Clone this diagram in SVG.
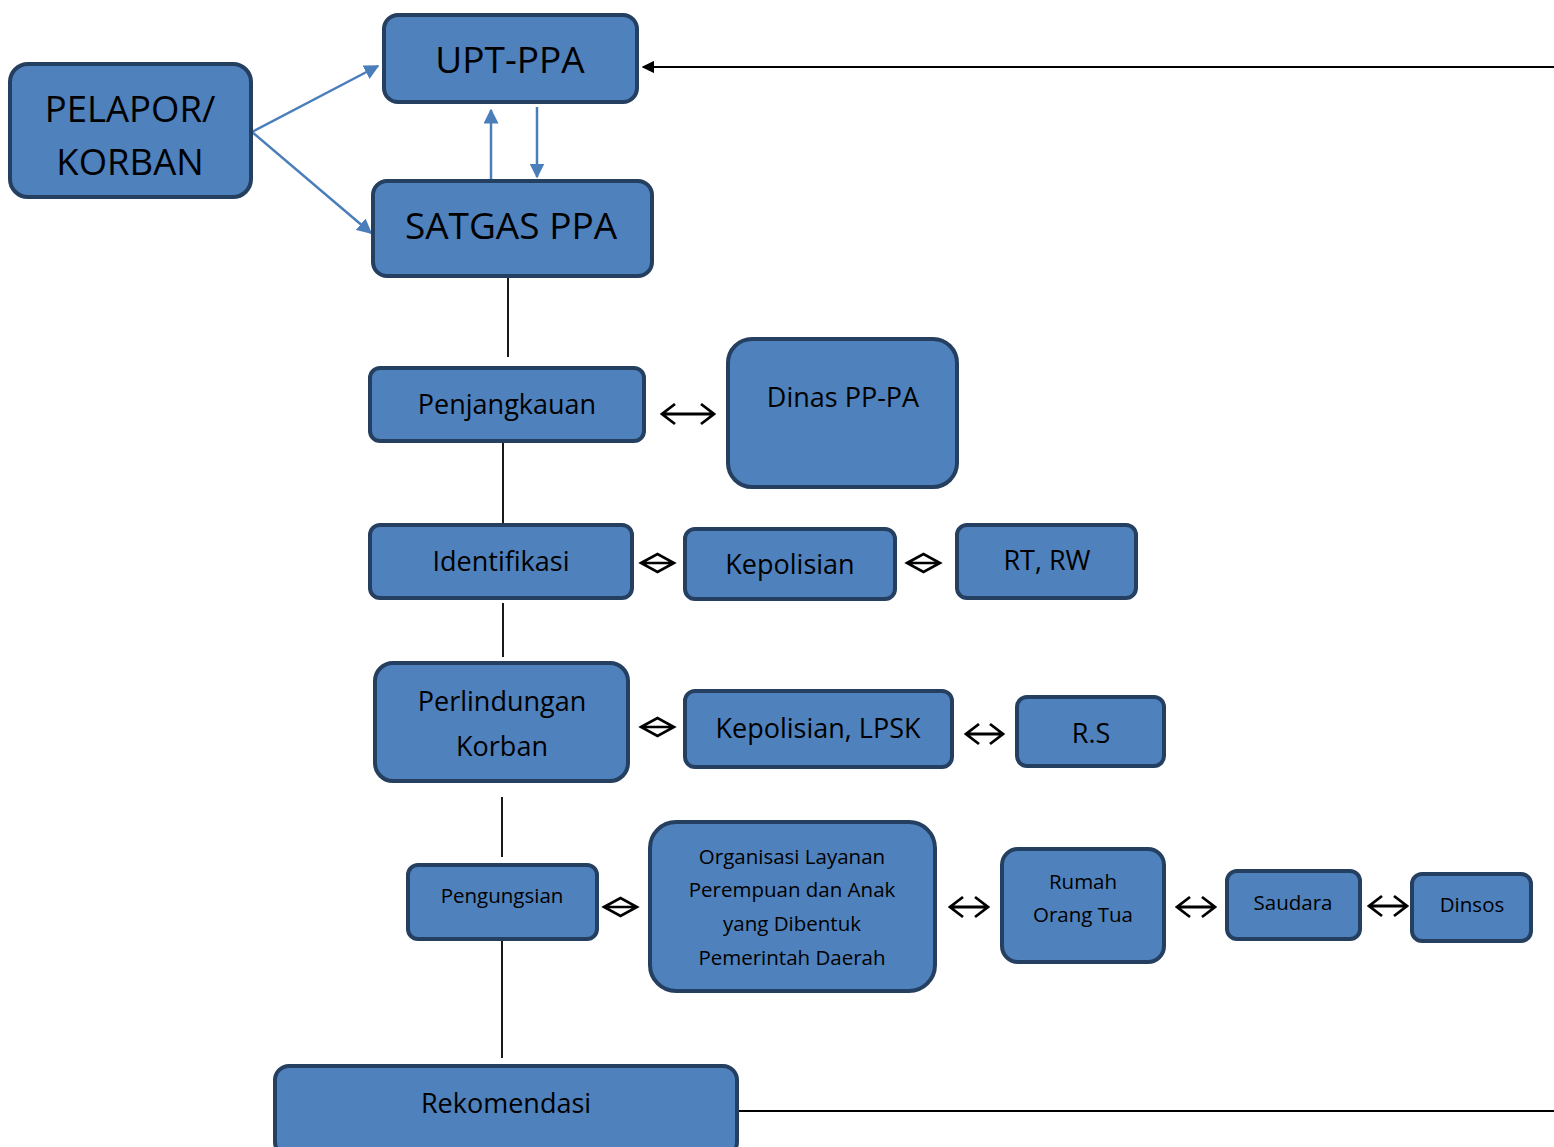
<svg xmlns="http://www.w3.org/2000/svg" width="1554" height="1147" viewBox="0 0 1554 1147">
<style>
.box{fill:#4F81BD;stroke:#243F60;stroke-width:4}
.t{font-family:"Open Sans","Liberation Sans",sans-serif;fill:#000;text-anchor:middle}
.blue{stroke:#4A7EBB;stroke-width:2.5;fill:none}
.ln{stroke:#000;stroke-width:1.8;fill:none}
.dbl{stroke:#000;stroke-width:2.8;fill:none;stroke-linejoin:miter}
.dia{stroke:#000;stroke-width:2.6;fill:#fff}
</style>
<defs>
<marker id="ab" viewBox="0 0 10 10" refX="9" refY="5" markerWidth="6" markerHeight="6" orient="auto" markerUnits="strokeWidth"><path d="M0,0 L10,5 L0,10 Z" fill="#4A7EBB"/></marker>
<marker id="ak" viewBox="0 0 10 10" refX="9" refY="5" markerWidth="7" markerHeight="7" orient="auto" markerUnits="strokeWidth"><path d="M0,0 L10,5 L0,10 Z" fill="#000"/></marker>
</defs>
<rect width="1554" height="1147" fill="#fff"/>
<g id="connectors">
<line class="blue" x1="252" y1="132" x2="378" y2="66" marker-end="url(#ab)"/>
<line class="blue" x1="252" y1="132" x2="371" y2="233" marker-end="url(#ab)"/>
<line class="blue" x1="491" y1="181" x2="491" y2="110" marker-end="url(#ab)"/>
<line class="blue" x1="537" y1="107" x2="537" y2="177" marker-end="url(#ab)"/>
<line class="ln" x1="1554" y1="67" x2="643" y2="67" marker-end="url(#ak)"/>
<line class="ln" x1="508" y1="276" x2="508" y2="357"/>
<line class="ln" x1="503" y1="441" x2="503" y2="523"/>
<line class="ln" x1="503" y1="603" x2="503" y2="657"/>
<line class="ln" x1="502" y1="797" x2="502" y2="857"/>
<line class="ln" x1="502" y1="940" x2="502" y2="1058"/>
<line class="ln" x1="737" y1="1111" x2="1554" y2="1111"/>
<path class="dbl" d="M662,414 H714 M675,404 L662,414 L675,424 M701,404 L714,414 L701,424"/>
<path class="dia" d="M641,563 L657.5,554 L674,563 L657.5,572 Z M641,563 H674"/>
<path class="dia" d="M907,563 L923.5,554 L940,563 L923.5,572 Z M907,563 H940"/>
<path class="dia" d="M641,727 L657.5,718 L674,727 L657.5,736 Z M641,727 H674"/>
<path class="dbl" d="M966,734 H1003 M979,724 L966,734 L979,744 M990,724 L1003,734 L990,744"/>
<path class="dia" d="M604,907 L620.5,898 L637,907 L620.5,916 Z M604,907 H637"/>
<path class="dbl" d="M950,907 H988 M963,897 L950,907 L963,917 M975,897 L988,907 L975,917"/>
<path class="dbl" d="M1177,907 H1215 M1190,897 L1177,907 L1190,917 M1202,897 L1215,907 L1202,917"/>
<path class="dbl" d="M1369,906 H1407 M1382,896 L1369,906 L1382,916 M1394,896 L1407,906 L1394,916"/>
</g>
<g id="pelapor"><rect class="box" x="10" y="64" width="241" height="133" rx="18"/><text class="t" x="130" y="122" font-size="36.5">PELAPOR/</text><text class="t" x="130" y="175" font-size="36.5">KORBAN</text></g>
<g id="upt"><rect class="box" x="384" y="15" width="253" height="87" rx="14"/><text class="t" x="510" y="73" font-size="37">UPT-PPA</text></g>
<g id="satgas"><rect class="box" x="373" y="181" width="279" height="95" rx="14"/><text class="t" x="511" y="239" font-size="37">SATGAS PPA</text></g>
<g id="penjangkauan"><rect class="box" x="370" y="368" width="274" height="73" rx="10"/><text class="t" x="507" y="414" font-size="27">Penjangkauan</text></g>
<g id="dinas"><rect class="box" x="728" y="339" width="229" height="148" rx="24"/><text class="t" x="843" y="407" font-size="27">Dinas PP-PA</text></g>
<g id="identifikasi"><rect class="box" x="370" y="525" width="262" height="73" rx="10"/><text class="t" x="501" y="571" font-size="27">Identifikasi</text></g>
<g id="kepolisian"><rect class="box" x="685" y="529" width="210" height="70" rx="10"/><text class="t" x="790" y="574" font-size="27">Kepolisian</text></g>
<g id="rtrw"><rect class="box" x="957" y="525" width="179" height="73" rx="10"/><text class="t" x="1047" y="570" font-size="27">RT, RW</text></g>
<g id="perlindungan"><rect class="box" x="375" y="663" width="253" height="118" rx="18"/><text class="t" x="502" y="711" font-size="27">Perlindungan</text><text class="t" x="502" y="756" font-size="27">Korban</text></g>
<g id="lpsk"><rect class="box" x="685" y="691" width="267" height="76" rx="10"/><text class="t" x="818" y="738" font-size="27">Kepolisian, LPSK</text></g>
<g id="rs"><rect class="box" x="1017" y="697" width="147" height="69" rx="10"/><text class="t" x="1091" y="743" font-size="27">R.S</text></g>
<g id="pengungsian"><rect class="box" x="408" y="865" width="189" height="74" rx="10"/><text class="t" x="502" y="903" font-size="20.5">Pengungsian</text></g>
<g id="organisasi"><rect class="box" x="650" y="822" width="285" height="169" rx="26"/><text class="t" x="792" y="864" font-size="20.5">Organisasi Layanan</text><text class="t" x="792" y="897" font-size="20.5">Perempuan dan Anak</text><text class="t" x="792" y="931" font-size="20.5">yang Dibentuk</text><text class="t" x="792" y="965" font-size="20.5">Pemerintah Daerah</text></g>
<g id="rumah"><rect class="box" x="1002" y="849" width="162" height="113" rx="16"/><text class="t" x="1083" y="889" font-size="20.5">Rumah</text><text class="t" x="1083" y="922" font-size="20.5">Orang Tua</text></g>
<g id="saudara"><rect class="box" x="1227" y="871" width="133" height="68" rx="10"/><text class="t" x="1293" y="910" font-size="20.5">Saudara</text></g>
<g id="dinsos"><rect class="box" x="1412" y="874" width="119" height="67" rx="10"/><text class="t" x="1472" y="912" font-size="20.5">Dinsos</text></g>
<g id="rekomendasi"><rect class="box" x="275" y="1066" width="462" height="90" rx="14"/><text class="t" x="506" y="1113" font-size="27">Rekomendasi</text></g>
</svg>
